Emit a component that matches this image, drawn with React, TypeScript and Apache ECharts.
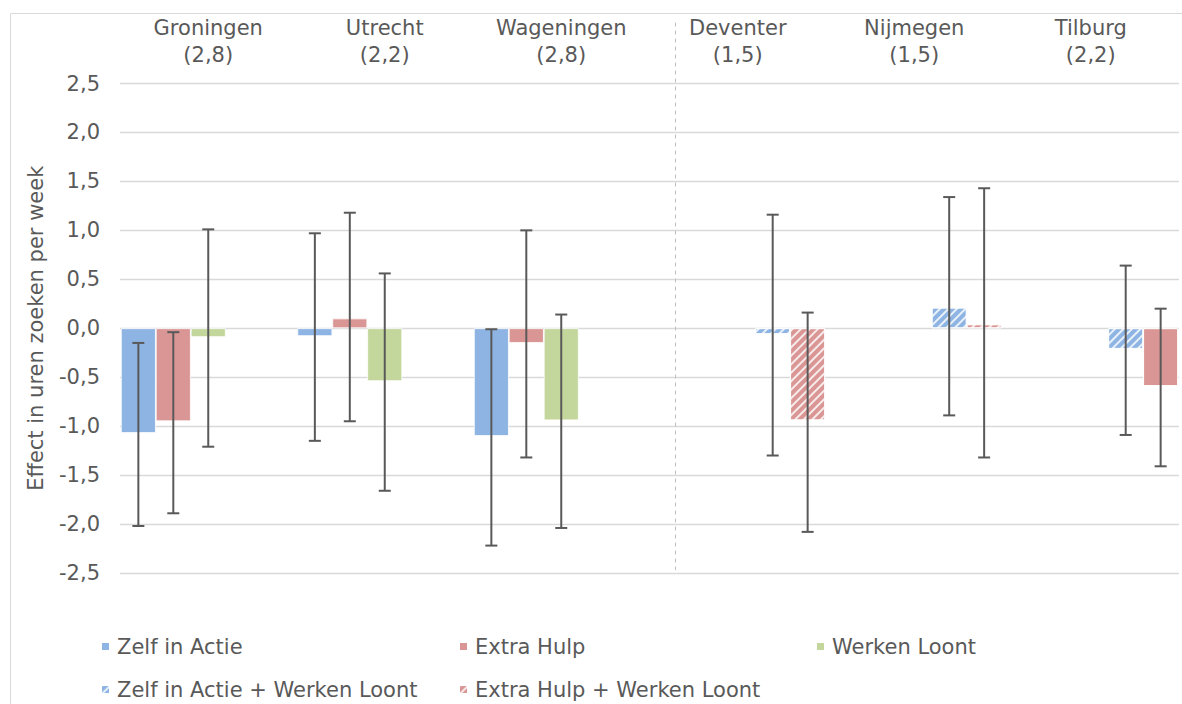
import React, { useEffect, useRef } from "react";
import * as echarts from "echarts";

const categories = ["Groningen", "Utrecht", "Wageningen", "Deventer", "Nijmegen", "Tilburg"];
const sampleSizes = ["2,8", "2,2", "2,8", "1,5", "1,5", "2,2"];

const seriesNames = [
  "Zelf in Actie",
  "Extra Hulp",
  "Werken Loont",
  "Zelf in Actie + Werken Loont",
  "Extra Hulp + Werken Loont",
];

const zelfInActie = [-1.07, -0.08, -1.1, null, null, null];
const extraHulp = [-0.95, 0.1, -0.15, null, null, null];
const werkenLoont = [-0.09, -0.54, -0.94, null, null, null];
const zelfInActieWL = [null, null, null, -0.06, 0.21, -0.21];
const extraHulpWL = [null, null, null, -0.94, 0.04, -0.59];

const zelfInActieLow = [-2.02, -1.15, -2.22, null, null, null];
const zelfInActieHigh = [-0.15, 0.97, -0.01, null, null, null];
const extraHulpLow = [-1.89, -0.95, -1.32, null, null, null];
const extraHulpHigh = [-0.04, 1.18, 1.0, null, null, null];
const werkenLoontLow = [-1.21, -1.66, -2.04, null, null, null];
const werkenLoontHigh = [1.01, 0.56, 0.14, null, null, null];
const zelfInActieWLLow = [null, null, null, -1.3, -0.89, -1.09];
const zelfInActieWLHigh = [null, null, null, 1.16, 1.34, 0.64];
const extraHulpWLLow = [null, null, null, -2.08, -1.32, -1.41];
const extraHulpWLHigh = [null, null, null, 0.16, 1.43, 0.2];

// per combined series: which categories are drawn without hatching
const solidZelfInActieWL = [false, false, false, false, false, false];
const solidExtraHulpWL = [false, false, false, false, false, true];

const colors = ["#8EB4E3", "#D99694", "#C3D69B", "#8EB4E3", "#D99694"];

const values = [zelfInActie, extraHulp, werkenLoont, zelfInActieWL, extraHulpWL];
const solids = [null, null, null, solidZelfInActieWL, solidExtraHulpWL];
const lows = [zelfInActieLow, extraHulpLow, werkenLoontLow, zelfInActieWLLow, extraHulpWLLow];
const highs = [zelfInActieHigh, extraHulpHigh, werkenLoontHigh, zelfInActieWLHigh, extraHulpWLHigh];

const FONT = "DejaVu Sans";
const TEXT = "#595959";
const BAR_GAP_FRAC = 0.01;

const hatch = {
  symbol: "rect",
  symbolSize: 1,
  color: "rgba(255,255,255,0.8)",
  dashArrayX: [1, 0],
  dashArrayY: [2, 4],
  rotation: -Math.PI / 4,
};
const noHatch = { ...hatch, color: "rgba(255,255,255,0)" };

export default function App() {
  const ref = useRef<HTMLDivElement>(null);

  useEffect(() => {
    document.body.style.margin = "0";
    if (!ref.current) return;
    const chart = echarts.init(ref.current, undefined, { renderer: "svg" });

    const barSeries = values.map((arr, s) => ({
      name: seriesNames[s],
      type: "bar",
      barGap: "0%",
      barCategoryGap: "1%",
      itemStyle: {
        color: colors[s],
        borderColor: "#ffffff",
        borderWidth: 0.8,
        ...(s >= 3 ? { decal: hatch } : {}),
      },
      data: arr.map((v, i) => {
        if (v === null) return "-";
        const sol = solids[s];
        if (sol) return { value: v, itemStyle: { decal: sol[i] ? noHatch : hatch } };
        return v;
      }),
    }));

    const errData: any[] = [];
    lows.forEach((lo, s) => {
      lo.forEach((l, i) => {
        if (l !== null && highs[s][i] !== null) errData.push([i, s, l, highs[s][i]]);
      });
    });

    const errSeries = {
      type: "custom",
      name: "err",
      silent: true,
      z: 10,
      encode: { x: 0, y: [2, 3] },
      data: errData,
      renderItem: (params: any, api: any) => {
        const cat = api.value(0);
        const slot = api.value(1);
        const lo = api.coord([cat, api.value(2)]);
        const hi = api.coord([cat, api.value(3)]);
        const band = api.size([1, 0])[0];
        const bw = (band * (1 - BAR_GAP_FRAC)) / 5;
        const x = lo[0] + (slot - 2) * bw;
        const cap = 6;
        const style = { stroke: "#595959", lineWidth: 2 };
        return {
          type: "group",
          children: [
            { type: "line", shape: { x1: x, y1: lo[1], x2: x, y2: hi[1] }, style },
            { type: "line", shape: { x1: x - cap, y1: lo[1], x2: x + cap, y2: lo[1] }, style },
            { type: "line", shape: { x1: x - cap, y1: hi[1], x2: x + cap, y2: hi[1] }, style },
          ],
        };
      },
    };

    const legendPos = [
      { left: 100, top: 634 },
      { left: 458, top: 634 },
      { left: 815, top: 634 },
      { left: 100, top: 677 },
      { left: 458, top: 677 },
    ];

    chart.setOption({
      animation: false,
      textStyle: { fontFamily: FONT, color: TEXT },
      grid: { left: 120, right: 3, top: 83.5, bottom: 131 },
      legend: seriesNames.map((n, s) => ({
        data: [n],
        left: legendPos[s].left,
        top: legendPos[s].top,
        padding: 0,
        itemWidth: 9,
        itemHeight: 9,
        itemGap: 0,
        icon: "rect",
        selectedMode: false,
        textStyle: { fontFamily: FONT, fontSize: 21, color: TEXT, lineHeight: 25, padding: [0, 0, 0, 2] },
      })),
      xAxis: {
        type: "category",
        position: "top",
        data: categories,
        axisLine: { show: false },
        axisTick: { show: false },
        axisLabel: {
          interval: 0,
          margin: 15,
          fontFamily: FONT,
          fontSize: 21,
          lineHeight: 27,
          color: TEXT,
          formatter: (v: string, i: number) => `${v}\n(${sampleSizes[i]})`,
        },
      },
      yAxis: {
        type: "value",
        min: -2.5,
        max: 2.5,
        interval: 0.5,
        name: "Effect in uren zoeken per week",
        nameLocation: "middle",
        nameGap: 74,
        nameTextStyle: { fontFamily: FONT, fontSize: 21, color: TEXT },
        axisLine: { show: false },
        axisTick: { show: false },
        splitLine: { lineStyle: { color: "#D9D9D9", width: 1.3 } },
        axisLabel: {
          margin: 20,
          fontFamily: FONT,
          fontSize: 21,
          color: TEXT,
          formatter: (v: number) => v.toFixed(1).replace(".", ","),
        },
      },
      series: [...barSeries, errSeries],
    });

    const cDev = chart.convertToPixel({ xAxisIndex: 0 }, categories[3]) as number;
    const cWag = chart.convertToPixel({ xAxisIndex: 0 }, categories[2]) as number;
    const band = cDev - cWag;
    const xDash = Math.round(cDev - 0.357 * band) + 0.5;
    const yTop = chart.convertToPixel({ yAxisIndex: 0 }, 2.5) as number;
    const yBot = chart.convertToPixel({ yAxisIndex: 0 }, -2.5) as number;

    chart.setOption({
      graphic: [
        {
          type: "rect",
          silent: true,
          shape: { x: 10.5, y: 13.5, width: 1200, height: 720 },
          style: { fill: "none", stroke: "#D9D9D9", lineWidth: 1 },
        },
        {
          type: "line",
          silent: true,
          shape: { x1: xDash, y1: yTop - 61, x2: xDash, y2: yBot - 3 },
          style: { stroke: "#BFBFBF", lineWidth: 1, lineDash: [4, 4] },
        },
      ],
    });

    return () => chart.dispose();
  }, []);

  return <div ref={ref} style={{ width: 1182, height: 704 }} />;
}
